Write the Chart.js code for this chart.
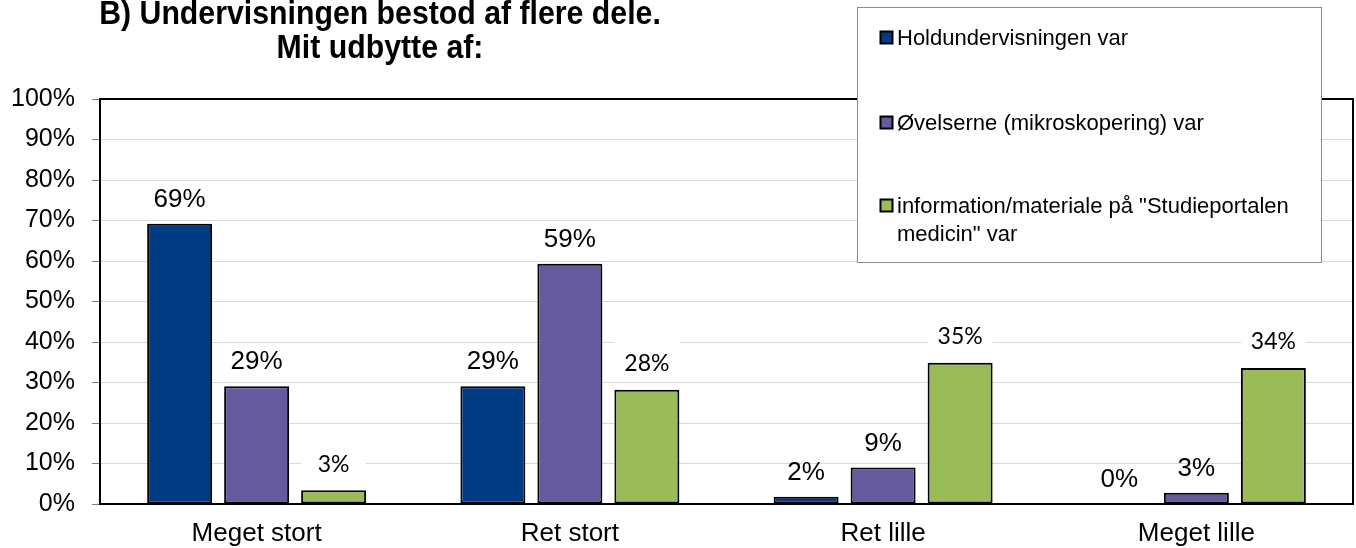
<!DOCTYPE html>
<html>
<head>
<meta charset="utf-8">
<script src="https://cdn.jsdelivr.net/npm/chart.js@4"></script>
<style>
  body { margin: 0; background: #fff; }
  .wrap { width: 1356px; height: 548px; }
</style>
</head>
<body>
<div class="wrap"><canvas id="graph"></canvas></div>
<script>
// data
const categories = ['Meget stort', 'Ret stort', 'Ret lille', 'Meget lille'];
const seriesNames = ['Holdundervisningen var', 'Øvelserne (mikroskopering) var', 'information/materiale på "Studieportalen medicin" var'];
const holdundervisning = [69.2, 29.1, 1.8, 0];
const oevelser = [29.1, 59.3, 9.0, 2.8];
const studieportal = [3.4, 28.2, 34.9, 33.6];
const titleLines = ['B) Undervisningen bestod af flere dele.', 'Mit udbytte af:'];

const colors = ['#003C84', '#665A9E', '#9BBB59'];

Chart.defaults.font.family = '"Liberation Sans", Arial, sans-serif';
Chart.defaults.color = '#000';

// title, drawn by hand (narrow bold face, two centered lines)
const titlePlugin = {
  id: 'titleText',
  afterDraw(chart) {
    const ctx = chart.ctx;
    ctx.save();
    ctx.font = 'bold 34px "Liberation Sans", Arial, sans-serif';
    ctx.fillStyle = '#000';
    ctx.textAlign = 'center';
    ctx.textBaseline = 'alphabetic';
    ctx.translate(380, 0);
    ctx.scale(0.89, 1);
    ctx.fillText(titleLines[0], 0, 24);
    ctx.fillText(titleLines[1], 0, 58);
    ctx.restore();
  }
};

// black frame round the plot
const framePlugin = {
  id: 'frame',
  afterDatasetsDraw(chart) {
    const a = chart.chartArea;
    const ctx = chart.ctx;
    ctx.save();
    ctx.strokeStyle = '#000';
    ctx.lineWidth = 2;
    ctx.strokeRect(a.left, a.top, a.right - a.left, a.bottom - a.top);
    ctx.restore();
  }
};

// value labels over the bars
const labelPlugin = {
  id: 'barLabels',
  afterDatasetsDraw(chart) {
    const ctx = chart.ctx;
    ctx.save();
    chart.data.datasets.forEach((ds, i) => {
      const meta = chart.getDatasetMeta(i);
      meta.data.forEach((bar, j) => {
        const txt = Math.round(ds.data[j]) + '%';
        let y = bar.y - 24;
        if (i === 2) {
          // green labels sit in a white box, like the original
          y = bar.y - 26;
          ctx.fillStyle = '#fff';
          ctx.fillRect(bar.x - bar.width / 2, y - 22, bar.width, 36);
          ctx.font = '23px Lato, "Open Sans", sans-serif';
        } else {
          ctx.font = '26px "Liberation Sans", Arial, sans-serif';
        }
        ctx.fillStyle = '#000';
        ctx.textAlign = 'center';
        ctx.textBaseline = 'middle';
        ctx.fillText(txt, bar.x, y);
      });
    });
    ctx.restore();
  }
};

// legend box that overlaps the top right of the plot
const legendPlugin = {
  id: 'boxLegend',
  afterDraw(chart) {
    const ctx = chart.ctx;
    ctx.save();
    ctx.fillStyle = '#fff';
    ctx.fillRect(857, 7, 464, 255);
    ctx.strokeStyle = '#8c8c8c';
    ctx.lineWidth = 1;
    ctx.strokeRect(857.5, 7.5, 464, 255);

    const rows = [
      { y: 45, lines: [seriesNames[0]] },
      { y: 130, lines: [seriesNames[1]] },
      { y: 213, lines: ['information/materiale på "Studieportalen', 'medicin" var'] }
    ];
    ctx.font = '22px "Liberation Sans", Arial, sans-serif';
    ctx.textAlign = 'left';
    ctx.textBaseline = 'alphabetic';
    rows.forEach((r, i) => {
      ctx.fillStyle = colors[i];
      ctx.fillRect(880.5, r.y - 13.5, 12, 12);
      ctx.strokeStyle = '#000';
      ctx.lineWidth = 2;
      ctx.strokeRect(880.5, r.y - 13.5, 12, 12);
      ctx.fillStyle = '#000';
      r.lines.forEach((t, k) => ctx.fillText(t, 897, r.y + k * 28));
    });
    ctx.restore();
  }
};

const graph = document.getElementById('graph').getContext('2d');
let myChart = new Chart(graph, {
  type: 'bar',
  data: {
    labels: categories,
    datasets: [
      { label: seriesNames[0], data: holdundervisning, backgroundColor: colors[0] },
      { label: seriesNames[1], data: oevelser, backgroundColor: colors[1] },
      { label: seriesNames[2], data: studieportal, backgroundColor: colors[2] }
    ].map(d => Object.assign(d, {
      borderColor: '#000',
      borderWidth: 2,
      borderSkipped: false,
      categoryPercentage: 0.7374,
      barPercentage: 0.844
    }))
  },
  options: {
    responsive: true,
    maintainAspectRatio: false,
    animation: false,
    layout: {
      padding: { top: 99, right: 3, left: 0, bottom: 0 }
    },
    plugins: {
      legend: { display: false },
      title: { display: false },
      tooltip: { enabled: false }
    },
    scales: {
      x: {
        grid: { display: false, drawTicks: false },
        border: { color: '#000', width: 2 },
        ticks: { font: { size: 26 }, padding: 14, color: '#000' },
        afterFit(scale) { scale.height = 44; }
      },
      y: {
        min: 0,
        max: 100,
        ticks: {
          stepSize: 10,
          font: { size: 25 },
          padding: 17,
          color: '#000',
          callback: v => v + '%'
        },
        grid: { color: '#d9d9d9', tickColor: '#7f7f7f', tickLength: 8, lineWidth: 1 },
        border: { color: '#000', width: 2 },
        afterFit(scale) { scale.width = 100; }
      }
    }
  },
  plugins: [framePlugin, labelPlugin, legendPlugin, titlePlugin]
});
</script>
</body>
</html>
